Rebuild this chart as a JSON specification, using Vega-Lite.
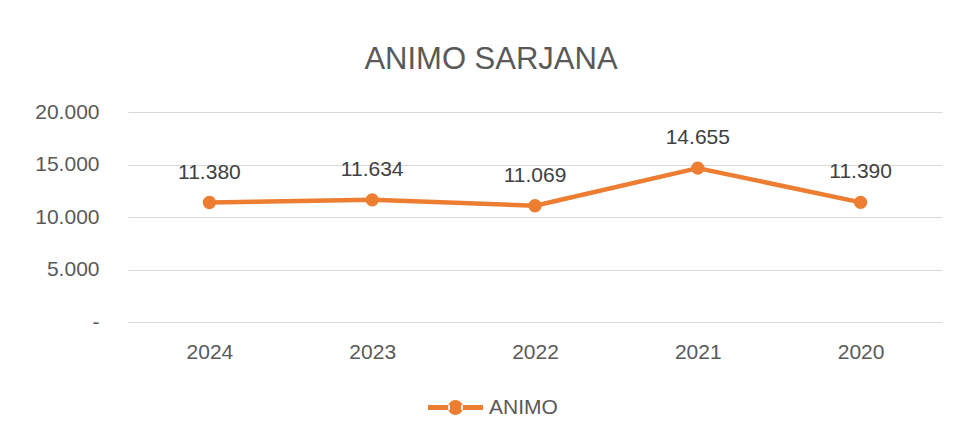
{
  "$schema": "https://vega.github.io/schema/vega-lite/v6.json",
  "autosize": {"type": "none"},
  "width": 814,
  "height": 210,
  "padding": {"left": 128, "top": 112, "right": 21, "bottom": 116},
  "background": "white",
  "title": {
    "text": "ANIMO SARJANA",
    "font": "Liberation Sans",
    "fontSize": 31,
    "fontWeight": "normal",
    "color": "#595959",
    "anchor": "middle",
    "frame": "group",
    "baseline": "alphabetic",
    "offset": 1,
    "dx": -44
  },
  "data": {
    "values": [
      {"year": "2024", "value": 11380, "series": "ANIMO"},
      {"year": "2023", "value": 11634, "series": "ANIMO"},
      {"year": "2022", "value": 11069, "series": "ANIMO"},
      {"year": "2021", "value": 14655, "series": "ANIMO"},
      {"year": "2020", "value": 11390, "series": "ANIMO"}
    ]
  },
  "encoding": {
    "x": {
      "field": "year",
      "type": "ordinal",
      "sort": null,
      "scale": {"type": "point", "padding": 0.5},
      "axis": {
        "title": null,
        "domain": false,
        "ticks": false,
        "grid": false,
        "labelAngle": 0,
        "labelPadding": 19,
        "labelFont": "Liberation Sans",
        "labelFontSize": 21,
        "labelColor": "#595959"
      }
    },
    "y": {
      "field": "value",
      "type": "quantitative",
      "scale": {"domain": [0, 20000], "nice": false},
      "axis": {
        "title": null,
        "values": [0, 5000, 10000, 15000, 20000],
        "domain": false,
        "ticks": false,
        "grid": true,
        "gridColor": "#D9D9D9",
        "gridWidth": 1.2,
        "labelPadding": 29,
        "labelFont": "Liberation Sans",
        "labelFontSize": 21,
        "labelColor": "#595959",
        "labelExpr": "datum.value == 0 ? '-' : format(datum.value, ',')"
      }
    }
  },
  "layer": [
    {
      "mark": {"type": "line", "strokeWidth": 4.5, "strokeCap": "round", "strokeJoin": "round"},
      "encoding": {
        "color": {
          "field": "series",
          "type": "nominal",
          "scale": {"range": ["#ED7D31"]},
          "legend": {
            "title": null,
            "orient": "none",
            "legendX": 300,
            "legendY": 268,
            "padding": 0,
            "symbolType": "M-1,-0.09L-0.2,-0.09L-0.2,0.09L-1,0.09Z M0.2,-0.09L1,-0.09L1,0.09L0.2,0.09Z M-0.27,0A0.27,0.27 0 1 0 0.27,0A0.27,0.27 0 1 0 -0.27,0Z",
            "symbolSize": 3025,
            "symbolFillColor": "#ED7D31",
            "symbolStrokeWidth": 0,
            "symbolOpacity": 1,
            "labelFont": "Liberation Sans",
            "labelFontSize": 21,
            "labelColor": "#595959",
            "labelOffset": 6
          }
        }
      }
    },
    {
      "mark": {"type": "point", "filled": true, "size": 177, "opacity": 1},
      "encoding": {
        "color": {"field": "series", "type": "nominal", "legend": null}
      }
    },
    {
      "mark": {"type": "text", "baseline": "alphabetic", "dy": -24, "font": "Liberation Sans", "fontSize": 21, "color": "#404040"},
      "encoding": {
        "text": {"field": "value", "type": "quantitative", "format": ","}
      }
    }
  ],
  "config": {
    "view": {"stroke": null},
    "locale": {
      "number": {"decimal": ",", "thousands": ".", "grouping": [3], "currency": ["", ""]}
    }
  }
}
